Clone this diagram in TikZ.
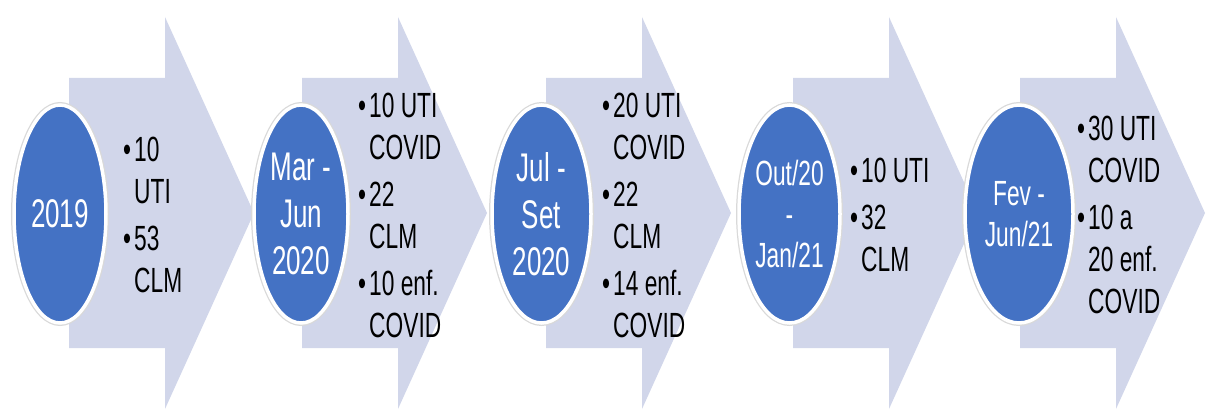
\documentclass[tikz,border=0pt]{standalone}
\usepackage{fontspec}
\setmainfont{Liberation Sans}[FakeStretch=0.65]
\usetikzlibrary{shapes.geometric}

\definecolor{arrowfill}{RGB}{209,214,234}
\definecolor{stageblue}{RGB}{68,114,196}
\newcommand{\bul}{\makebox[11pt][l]{\textbullet}}
\newcommand{\ind}{\hspace*{11pt}}

\begin{document}
\begin{tikzpicture}
  [x=1pt,y=-1pt,
   stage/.style={ellipse,fill=stageblue,draw=white,line width=3.5pt,inner sep=0pt,
     minimum height=218pt,text=white,align=center,font=\fontsize{35}{41}\selectfont,
     preaction={draw=black!15,line width=6pt}},
   bigstage/.style={stage,font=\fontsize{40}{47}\selectfont},
   items/.style={anchor=west,inner sep=0pt,align=left,font=\fontsize{35}{42}\selectfont}]
  \useasboundingbox (0,0) rectangle (1208,412);

  % the five arrows
  \foreach \x in {69,302,546,793,1020}
    \fill[arrowfill] (\x,78) -- (\x+96,78) -- (\x+96,17) -- (\x+185,213)
      -- (\x+96,409) -- (\x+96,348) -- (\x,348) -- cycle;

  % periods
  \node[bigstage,minimum width=92pt]  (c1) at (60,214)    {2019};
  \node[bigstage,minimum width=94pt]  (c2) at (301,214)   {Mar -\\Jun\\2020};
  \node[bigstage,minimum width=99pt]  (c3) at (541.5,214) {Jul -\\Set\\2020};
  \node[stage,minimum width=101pt] (c4) at (789.5,214) {Out/20\\-\\Jan/21};
  \node[stage,minimum width=108pt] (c5) at (1019,214)  {Fev -\\Jun/21};

  % lists
  \node[items] (t1) at (123,215)  {\bul 10\\\ind UTI\\[5pt]\bul 53\\\ind CLM};
  \node[items] (t2) at (358,215)  {\bul 10 UTI\\\ind COVID\\[5pt]\bul 22\\\ind CLM\\[5pt]\bul 10 enf.\\\ind COVID};
  \node[items] (t3) at (602,215)  {\bul 20 UTI\\\ind COVID\\[5pt]\bul 22\\\ind CLM\\[5pt]\bul 14 enf.\\\ind COVID};
  \node[items] (t4) at (850,215)  {\bul 10 UTI\\[5pt]\bul 32\\\ind CLM};
  \node[items] (t5) at (1077,215) {\bul 30 UTI\\\ind COVID\\[5pt]\bul 10 a\\\ind 20 enf.\\\ind COVID};

\end{tikzpicture}
\end{document}
